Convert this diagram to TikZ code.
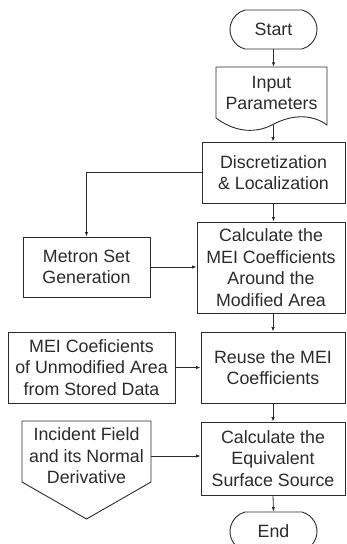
\documentclass[tikz,border=0pt]{standalone}
\usepackage{fontspec}
\setmainfont{Liberation Sans}
\usetikzlibrary{shapes.misc,arrows.meta}
\definecolor{ink}{HTML}{2B2B2B}
\tikzset{
  txt/.style={text=ink, align=center, inner sep=0pt, font=\fontsize{17.8}{21.5}\selectfont},
  box/.style={txt, draw=ink, line width=0.9pt},
  term/.style={box, rounded rectangle, rounded rectangle arc length=150},
  arr/.style={draw=ink, line width=0.8pt, -{Latex[length=4.5pt,width=3.5pt]}},
  shp/.style={draw=ink, line width=0.9pt},
}
\begin{document}
\begin{tikzpicture}[x=1pt,y=-1pt]
\useasboundingbox (0,0) rectangle (347,544);
\clip (0,0) rectangle (347,544);
% Start
\node[term, minimum width=87pt, minimum height=39pt] (start) at (273.5,29.5) {Start};
% Input Parameters (document shape)
\node[txt, minimum width=111pt, minimum height=52pt] (input) at (271.5,93) {Input\\Parameters};
\draw[shp] (216,118) -- (216,67) -- (327,67) -- (327,125)
  .. controls (312,114) and (292,114) .. (272,125)
  .. controls (252,135) and (232,130) .. (216,118) -- cycle;
\coordinate (inbot) at (273,125);
% Discretization
\node[box, minimum width=143pt, minimum height=61pt] (disc) at (273.5,172.5) {Discretization\\\& Localization};
% Calculate MEI
\node[box, minimum width=148pt, minimum height=91pt] (calc) at (271,267.5) {Calculate the\\MEI Coefficients\\Around the\\Modified Area};
% Metron
\node[box, minimum width=127pt, minimum height=60pt] (metron) at (86.5,267) {Metron Set\\Generation};
% MEI coef stored
\node[box, minimum width=167pt, minimum height=71pt] (stored) at (91.5,367.5) {MEI Coeficients\\of Unmodified Area\\from Stored Data};
% Reuse
\node[box, minimum width=144pt, minimum height=71pt] (reuse) at (273,367.5) {Reuse the MEI\\Coefficients};
% Calculate equivalent
\node[box, minimum width=144pt, minimum height=73pt] (eq) at (273,458.5) {Calculate the\\Equivalent\\Surface Source};
% Incident field (off-page connector shape)
\node[txt, minimum width=129pt, minimum height=61pt] (inc) at (86.5,456) {Incident Field\\and its Normal\\Derivative};
\draw[shp] (22,421) -- (151,421) -- (151,482) -- (86.5,519) -- (22,482) -- cycle;
% End
\node[term, minimum width=87pt, minimum height=39pt] (end) at (273.5,531.5) {End};
% connectors
\draw[arr] (start.south) -- (start.south |- input.north);
\draw[arr] (inbot) -- (inbot |- disc.north);
\draw[arr] (disc.west) -| (metron.north);
\draw[arr] (disc.south) -- (disc.south |- calc.north);
\draw[arr] (metron.east) -- (metron.east -| calc.west);
\draw[arr] (calc.south -| reuse.north) -- (reuse.north);
\draw[arr] (stored.east) -- (stored.east -| reuse.west);
\draw[arr] (reuse.south) -- (eq.north);
\draw[arr] (inc.east) -- (inc.east -| eq.west);
\draw[arr] (eq.south) -- (end.north);
\end{tikzpicture}
\end{document}
